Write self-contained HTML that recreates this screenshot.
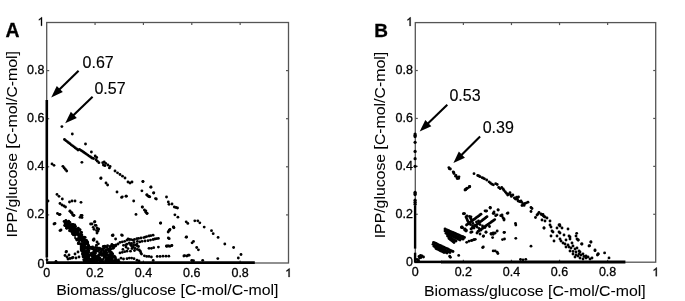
<!DOCTYPE html>
<html><head><meta charset="utf-8"><style>html,body{margin:0;padding:0;background:#fff;width:685px;height:301px;overflow:hidden}svg{display:block;will-change:transform}</style></head>
<body><svg width="685" height="301" viewBox="0 0 685 301"><rect x="46.7" y="22.5" width="241.8" height="240.5" fill="none" stroke="#555" stroke-width="1.3"/>
<text x="46.70" y="277.0" font-size="12.5" text-anchor="middle" font-family="Liberation Sans, sans-serif" stroke="#000" stroke-width="0.3">0</text>
<text x="44.400000000000006" y="267.50" font-size="12.5" text-anchor="end" font-family="Liberation Sans, sans-serif" stroke="#000" stroke-width="0.3">0</text>
<line x1="95.06" y1="263.0" x2="95.06" y2="260.5" stroke="#555" stroke-width="1.2"/>
<line x1="95.06" y1="22.5" x2="95.06" y2="25.0" stroke="#555" stroke-width="1.2"/>
<line x1="46.7" y1="214.90" x2="49.2" y2="214.90" stroke="#555" stroke-width="1.2"/>
<line x1="288.5" y1="214.90" x2="286.0" y2="214.90" stroke="#555" stroke-width="1.2"/>
<text x="95.06" y="277.0" font-size="12.5" text-anchor="middle" font-family="Liberation Sans, sans-serif" stroke="#000" stroke-width="0.3">0.2</text>
<text x="44.400000000000006" y="218.20" font-size="12.5" text-anchor="end" font-family="Liberation Sans, sans-serif" stroke="#000" stroke-width="0.3">0.2</text>
<line x1="143.42" y1="263.0" x2="143.42" y2="260.5" stroke="#555" stroke-width="1.2"/>
<line x1="143.42" y1="22.5" x2="143.42" y2="25.0" stroke="#555" stroke-width="1.2"/>
<line x1="46.7" y1="166.80" x2="49.2" y2="166.80" stroke="#555" stroke-width="1.2"/>
<line x1="288.5" y1="166.80" x2="286.0" y2="166.80" stroke="#555" stroke-width="1.2"/>
<text x="143.42" y="277.0" font-size="12.5" text-anchor="middle" font-family="Liberation Sans, sans-serif" stroke="#000" stroke-width="0.3">0.4</text>
<text x="44.400000000000006" y="170.10" font-size="12.5" text-anchor="end" font-family="Liberation Sans, sans-serif" stroke="#000" stroke-width="0.3">0.4</text>
<line x1="191.78" y1="263.0" x2="191.78" y2="260.5" stroke="#555" stroke-width="1.2"/>
<line x1="191.78" y1="22.5" x2="191.78" y2="25.0" stroke="#555" stroke-width="1.2"/>
<line x1="46.7" y1="118.70" x2="49.2" y2="118.70" stroke="#555" stroke-width="1.2"/>
<line x1="288.5" y1="118.70" x2="286.0" y2="118.70" stroke="#555" stroke-width="1.2"/>
<text x="191.78" y="277.0" font-size="12.5" text-anchor="middle" font-family="Liberation Sans, sans-serif" stroke="#000" stroke-width="0.3">0.6</text>
<text x="44.400000000000006" y="122.00" font-size="12.5" text-anchor="end" font-family="Liberation Sans, sans-serif" stroke="#000" stroke-width="0.3">0.6</text>
<line x1="240.14" y1="263.0" x2="240.14" y2="260.5" stroke="#555" stroke-width="1.2"/>
<line x1="240.14" y1="22.5" x2="240.14" y2="25.0" stroke="#555" stroke-width="1.2"/>
<line x1="46.7" y1="70.60" x2="49.2" y2="70.60" stroke="#555" stroke-width="1.2"/>
<line x1="288.5" y1="70.60" x2="286.0" y2="70.60" stroke="#555" stroke-width="1.2"/>
<text x="240.14" y="277.0" font-size="12.5" text-anchor="middle" font-family="Liberation Sans, sans-serif" stroke="#000" stroke-width="0.3">0.8</text>
<text x="44.400000000000006" y="73.90" font-size="12.5" text-anchor="end" font-family="Liberation Sans, sans-serif" stroke="#000" stroke-width="0.3">0.8</text>
<path transform="translate(285.02,277.0) scale(0.00610,-0.00610)" d="M 750 0 L 578 0 L 578 1100 C 537 1060 482 1020 414 981 C 346 942 286 912 233 892 L 233 1058 C 330 1103 413 1158 486 1223 C 559 1288 611 1350 640 1409 L 750 1409 Z" stroke="#000" stroke-width="49.2"/>
<path transform="translate(37.45,25.80) scale(0.00610,-0.00610)" d="M 750 0 L 578 0 L 578 1100 C 537 1060 482 1020 414 981 C 346 942 286 912 233 892 L 233 1058 C 330 1103 413 1158 486 1223 C 559 1288 611 1350 640 1409 L 750 1409 Z" stroke="#000" stroke-width="49.2"/>
<rect x="415.3" y="22.6" width="240.40000000000003" height="239.6" fill="none" stroke="#555" stroke-width="1.3"/>
<text x="415.30" y="276.2" font-size="12.5" text-anchor="middle" font-family="Liberation Sans, sans-serif" stroke="#000" stroke-width="0.3">0</text>
<text x="413.0" y="265.50" font-size="12.5" text-anchor="end" font-family="Liberation Sans, sans-serif" stroke="#000" stroke-width="0.3">0</text>
<line x1="463.38" y1="262.2" x2="463.38" y2="259.7" stroke="#555" stroke-width="1.2"/>
<line x1="463.38" y1="22.6" x2="463.38" y2="25.1" stroke="#555" stroke-width="1.2"/>
<line x1="415.3" y1="214.28" x2="417.8" y2="214.28" stroke="#555" stroke-width="1.2"/>
<line x1="655.7" y1="214.28" x2="653.2" y2="214.28" stroke="#555" stroke-width="1.2"/>
<text x="463.38" y="276.2" font-size="12.5" text-anchor="middle" font-family="Liberation Sans, sans-serif" stroke="#000" stroke-width="0.3">0.2</text>
<text x="413.0" y="217.58" font-size="12.5" text-anchor="end" font-family="Liberation Sans, sans-serif" stroke="#000" stroke-width="0.3">0.2</text>
<line x1="511.46" y1="262.2" x2="511.46" y2="259.7" stroke="#555" stroke-width="1.2"/>
<line x1="511.46" y1="22.6" x2="511.46" y2="25.1" stroke="#555" stroke-width="1.2"/>
<line x1="415.3" y1="166.36" x2="417.8" y2="166.36" stroke="#555" stroke-width="1.2"/>
<line x1="655.7" y1="166.36" x2="653.2" y2="166.36" stroke="#555" stroke-width="1.2"/>
<text x="511.46" y="276.2" font-size="12.5" text-anchor="middle" font-family="Liberation Sans, sans-serif" stroke="#000" stroke-width="0.3">0.4</text>
<text x="413.0" y="169.66" font-size="12.5" text-anchor="end" font-family="Liberation Sans, sans-serif" stroke="#000" stroke-width="0.3">0.4</text>
<line x1="559.54" y1="262.2" x2="559.54" y2="259.7" stroke="#555" stroke-width="1.2"/>
<line x1="559.54" y1="22.6" x2="559.54" y2="25.1" stroke="#555" stroke-width="1.2"/>
<line x1="415.3" y1="118.44" x2="417.8" y2="118.44" stroke="#555" stroke-width="1.2"/>
<line x1="655.7" y1="118.44" x2="653.2" y2="118.44" stroke="#555" stroke-width="1.2"/>
<text x="559.54" y="276.2" font-size="12.5" text-anchor="middle" font-family="Liberation Sans, sans-serif" stroke="#000" stroke-width="0.3">0.6</text>
<text x="413.0" y="121.74" font-size="12.5" text-anchor="end" font-family="Liberation Sans, sans-serif" stroke="#000" stroke-width="0.3">0.6</text>
<line x1="607.62" y1="262.2" x2="607.62" y2="259.7" stroke="#555" stroke-width="1.2"/>
<line x1="607.62" y1="22.6" x2="607.62" y2="25.1" stroke="#555" stroke-width="1.2"/>
<line x1="415.3" y1="70.52" x2="417.8" y2="70.52" stroke="#555" stroke-width="1.2"/>
<line x1="655.7" y1="70.52" x2="653.2" y2="70.52" stroke="#555" stroke-width="1.2"/>
<text x="607.62" y="276.2" font-size="12.5" text-anchor="middle" font-family="Liberation Sans, sans-serif" stroke="#000" stroke-width="0.3">0.8</text>
<text x="413.0" y="73.82" font-size="12.5" text-anchor="end" font-family="Liberation Sans, sans-serif" stroke="#000" stroke-width="0.3">0.8</text>
<path transform="translate(652.22,276.2) scale(0.00610,-0.00610)" d="M 750 0 L 578 0 L 578 1100 C 537 1060 482 1020 414 981 C 346 942 286 912 233 892 L 233 1058 C 330 1103 413 1158 486 1223 C 559 1288 611 1350 640 1409 L 750 1409 Z" stroke="#000" stroke-width="49.2"/>
<path transform="translate(406.05,25.90) scale(0.00610,-0.00610)" d="M 750 0 L 578 0 L 578 1100 C 537 1060 482 1020 414 981 C 346 942 286 912 233 892 L 233 1058 C 330 1103 413 1158 486 1223 C 559 1288 611 1350 640 1409 L 750 1409 Z" stroke="#000" stroke-width="49.2"/>
<text x="56.2" y="294.8" font-size="15.4" font-family="Liberation Sans, sans-serif" stroke="#000" stroke-width="0.05" textLength="222.3" lengthAdjust="spacingAndGlyphs">Biomass/glucose [C-mol/C-mol]</text>
<text x="423.9" y="295.7" font-size="15.4" font-family="Liberation Sans, sans-serif" stroke="#000" stroke-width="0.05" textLength="221.8" lengthAdjust="spacingAndGlyphs">Biomass/glucose [C-mol/C-mol]</text>
<text transform="translate(17.1,237.4) rotate(-90)" font-size="15.4" font-family="Liberation Sans, sans-serif" stroke="#000" stroke-width="0.05" textLength="186.4" lengthAdjust="spacingAndGlyphs">IPP/glucose [C-mol/C-mol]</text>
<text transform="translate(385.4,238.3) rotate(-90)" font-size="15.4" font-family="Liberation Sans, sans-serif" stroke="#000" stroke-width="0.05" textLength="186.4" lengthAdjust="spacingAndGlyphs">IPP/glucose [C-mol/C-mol]</text>
<text x="5.4" y="36.7" font-size="19.4" font-weight="bold" font-family="Liberation Sans, sans-serif" stroke="#000" stroke-width="0.3">A</text>
<text x="374.2" y="36.7" font-size="19" font-weight="bold" font-family="Liberation Sans, sans-serif" stroke="#000" stroke-width="0.3">B</text>
<text x="82.6" y="67.8" font-size="16" font-family="Liberation Sans, sans-serif" stroke="#000" stroke-width="0.15">0.67</text>
<text x="94.4" y="93.7" font-size="16" font-family="Liberation Sans, sans-serif" stroke="#000" stroke-width="0.15">0.57</text>
<text x="449.4" y="101" font-size="16" font-family="Liberation Sans, sans-serif" stroke="#000" stroke-width="0.15">0.53</text>
<text x="482.7" y="133.4" font-size="16" font-family="Liberation Sans, sans-serif" stroke="#000" stroke-width="0.15">0.39</text>
<line x1="78.6" y1="70.7" x2="58.36" y2="90.42" stroke="#000" stroke-width="2.1"/>
<polygon points="51.2,97.4 56.79,85.95 62.80,92.10" fill="#000"/>
<line x1="92.6" y1="96.7" x2="72.39" y2="116.25" stroke="#000" stroke-width="2.1"/>
<polygon points="65.2,123.2 70.84,111.77 76.82,117.95" fill="#000"/>
<line x1="447.3" y1="104.7" x2="426.89" y2="124.45" stroke="#000" stroke-width="2.1"/>
<polygon points="419.7,131.4 425.33,119.97 431.31,126.15" fill="#000"/>
<line x1="480.1" y1="136.4" x2="460.47" y2="156.03" stroke="#000" stroke-width="2.1"/>
<polygon points="453.4,163.1 458.84,151.57 464.93,157.66" fill="#000"/>
<g fill="#000">
<line x1="46.8" y1="100" x2="46.8" y2="257.5" stroke="#000" stroke-width="2.6"/>
<line x1="46.3" y1="262.7" x2="254.8" y2="262.7" stroke="#000" stroke-width="2.8"/>
<circle cx="47.0" cy="259.8" r="1.42"/>
<circle cx="56.0" cy="261.3" r="1.42"/>
<circle cx="61.9" cy="126.6" r="1.42"/>
<circle cx="72.3" cy="134.0" r="1.42"/>
<circle cx="85.5" cy="144.0" r="1.42"/>
<circle cx="91.4" cy="152.0" r="1.42"/>
<circle cx="81.9" cy="162.3" r="1.42"/>
<circle cx="52.0" cy="163.9" r="1.42"/>
<circle cx="54.0" cy="165.3" r="1.42"/>
<circle cx="100.8" cy="178.4" r="1.42"/>
<circle cx="64.5" cy="139.5" r="1.42"/>
<circle cx="65.8" cy="140.6" r="1.42"/>
<circle cx="67.2" cy="141.6" r="1.42"/>
<circle cx="68.5" cy="142.7" r="1.42"/>
<circle cx="69.9" cy="143.7" r="1.42"/>
<circle cx="71.2" cy="144.8" r="1.42"/>
<circle cx="72.6" cy="145.8" r="1.42"/>
<circle cx="74.0" cy="146.8" r="1.42"/>
<circle cx="75.3" cy="147.9" r="1.42"/>
<circle cx="76.7" cy="148.9" r="1.42"/>
<circle cx="78.0" cy="150.0" r="1.42"/>
<circle cx="79.5" cy="149.3" r="1.42"/>
<circle cx="80.9" cy="150.3" r="1.42"/>
<circle cx="82.3" cy="151.2" r="1.42"/>
<circle cx="83.7" cy="152.2" r="1.42"/>
<circle cx="85.1" cy="153.2" r="1.42"/>
<circle cx="86.4" cy="154.1" r="1.42"/>
<circle cx="87.8" cy="155.1" r="1.42"/>
<circle cx="89.2" cy="156.1" r="1.42"/>
<circle cx="90.6" cy="157.0" r="1.42"/>
<circle cx="92.0" cy="158.0" r="1.42"/>
<circle cx="95.2" cy="156.0" r="1.42"/>
<circle cx="96.7" cy="157.5" r="1.42"/>
<circle cx="96.0" cy="159.7" r="1.42"/>
<circle cx="97.4" cy="161.2" r="1.42"/>
<circle cx="98.9" cy="162.7" r="1.42"/>
<circle cx="102.7" cy="162.7" r="1.42"/>
<circle cx="104.2" cy="162.0" r="1.42"/>
<circle cx="105.7" cy="163.4" r="1.42"/>
<circle cx="104.9" cy="165.7" r="1.42"/>
<circle cx="103.4" cy="165.0" r="1.42"/>
<circle cx="107.9" cy="165.0" r="1.42"/>
<circle cx="110.1" cy="166.4" r="1.42"/>
<circle cx="109.4" cy="167.9" r="1.42"/>
<circle cx="93.5" cy="158.5" r="1.42"/>
<circle cx="62.9" cy="166.3" r="1.42"/>
<circle cx="64.2" cy="167.9" r="1.42"/>
<circle cx="65.4" cy="169.4" r="1.42"/>
<circle cx="66.7" cy="171.0" r="1.42"/>
<circle cx="115.0" cy="171.0" r="1.42"/>
<circle cx="117.5" cy="172.8" r="1.42"/>
<circle cx="120.0" cy="174.5" r="1.42"/>
<circle cx="122.5" cy="176.2" r="1.42"/>
<circle cx="125.0" cy="178.0" r="1.42"/>
<circle cx="128.0" cy="182.0" r="1.42"/>
<circle cx="130.0" cy="183.0" r="1.42"/>
<circle cx="132.0" cy="182.0" r="1.42"/>
<circle cx="142.9" cy="181.5" r="1.42"/>
<circle cx="101.0" cy="178.0" r="1.42"/>
<circle cx="106.0" cy="183.0" r="1.42"/>
<circle cx="107.6" cy="185.0" r="1.42"/>
<circle cx="117.0" cy="192.0" r="1.42"/>
<circle cx="122.3" cy="196.8" r="1.42"/>
<circle cx="126.0" cy="196.2" r="1.42"/>
<circle cx="141.9" cy="190.8" r="1.42"/>
<circle cx="150.8" cy="187.2" r="1.42"/>
<circle cx="146.8" cy="194.8" r="1.42"/>
<circle cx="149.8" cy="196.8" r="1.42"/>
<circle cx="153.8" cy="192.8" r="1.42"/>
<circle cx="143.0" cy="181.6" r="1.42"/>
<circle cx="151.0" cy="187.0" r="1.42"/>
<circle cx="147.0" cy="195.0" r="1.42"/>
<circle cx="149.0" cy="196.5" r="1.42"/>
<circle cx="153.6" cy="193.0" r="1.42"/>
<circle cx="156.3" cy="199.0" r="1.42"/>
<circle cx="166.5" cy="197.0" r="1.42"/>
<circle cx="168.3" cy="202.0" r="1.42"/>
<circle cx="169.0" cy="204.3" r="1.42"/>
<circle cx="172.0" cy="204.0" r="1.42"/>
<circle cx="174.3" cy="207.0" r="1.42"/>
<circle cx="176.0" cy="207.5" r="1.42"/>
<circle cx="177.5" cy="208.0" r="1.42"/>
<circle cx="142.4" cy="207.0" r="1.42"/>
<circle cx="144.4" cy="210.0" r="1.42"/>
<circle cx="145.6" cy="212.0" r="1.42"/>
<circle cx="147.0" cy="213.5" r="1.42"/>
<circle cx="174.9" cy="214.8" r="1.42"/>
<circle cx="177.9" cy="217.2" r="1.42"/>
<circle cx="160.5" cy="223.2" r="1.42"/>
<circle cx="186.2" cy="221.8" r="1.42"/>
<circle cx="187.8" cy="223.4" r="1.42"/>
<circle cx="194.8" cy="220.8" r="1.42"/>
<circle cx="197.8" cy="220.8" r="1.42"/>
<circle cx="199.8" cy="222.8" r="1.42"/>
<circle cx="173.9" cy="227.8" r="1.42"/>
<circle cx="170.0" cy="229.4" r="1.42"/>
<circle cx="204.2" cy="227.1" r="1.42"/>
<circle cx="211.5" cy="230.7" r="1.42"/>
<circle cx="213.2" cy="233.7" r="1.42"/>
<circle cx="218.1" cy="237.4" r="1.42"/>
<circle cx="224.8" cy="244.0" r="1.42"/>
<circle cx="233.6" cy="247.5" r="1.42"/>
<circle cx="241.0" cy="254.5" r="1.42"/>
<circle cx="238.3" cy="258.0" r="1.42"/>
<circle cx="217.8" cy="258.6" r="1.42"/>
<circle cx="192.1" cy="242.8" r="1.42"/>
<circle cx="193.5" cy="241.4" r="1.42"/>
<circle cx="196.7" cy="247.5" r="1.42"/>
<circle cx="198.4" cy="249.8" r="1.42"/>
<circle cx="202.7" cy="260.3" r="1.42"/>
<circle cx="191.8" cy="260.3" r="1.42"/>
<circle cx="193.5" cy="260.7" r="1.42"/>
<circle cx="173.3" cy="227.0" r="1.42"/>
<circle cx="169.3" cy="230.4" r="1.42"/>
<circle cx="168.3" cy="238.0" r="1.42"/>
<circle cx="186.6" cy="237.0" r="1.42"/>
<circle cx="166.6" cy="246.3" r="1.42"/>
<circle cx="170.0" cy="246.3" r="1.42"/>
<circle cx="171.6" cy="245.7" r="1.42"/>
<circle cx="160.7" cy="223.0" r="1.42"/>
<circle cx="173.7" cy="227.2" r="1.42"/>
<circle cx="169.2" cy="230.2" r="1.42"/>
<circle cx="168.2" cy="232.0" r="1.42"/>
<circle cx="169.2" cy="238.7" r="1.42"/>
<circle cx="186.1" cy="237.2" r="1.42"/>
<circle cx="184.7" cy="255.7" r="1.42"/>
<circle cx="188.3" cy="255.2" r="1.42"/>
<circle cx="167.7" cy="246.0" r="1.42"/>
<circle cx="136.0" cy="214.4" r="1.42"/>
<circle cx="142.2" cy="207.1" r="1.42"/>
<circle cx="145.8" cy="210.8" r="1.42"/>
<circle cx="147.0" cy="213.2" r="1.42"/>
<circle cx="133.7" cy="201.0" r="1.42"/>
<circle cx="121.6" cy="197.4" r="1.42"/>
<circle cx="126.4" cy="196.2" r="1.42"/>
<circle cx="148.3" cy="196.2" r="1.42"/>
<circle cx="155.5" cy="198.6" r="1.42"/>
<circle cx="94.9" cy="221.7" r="1.42"/>
<circle cx="96.0" cy="225.3" r="1.42"/>
<circle cx="98.5" cy="229.0" r="1.42"/>
<circle cx="93.6" cy="240.0" r="1.42"/>
<circle cx="113.0" cy="235.0" r="1.42"/>
<circle cx="121.6" cy="235.0" r="1.42"/>
<circle cx="112.3" cy="235.4" r="1.42"/>
<circle cx="122.3" cy="235.4" r="1.42"/>
<circle cx="115.6" cy="239.0" r="1.42"/>
<circle cx="120.0" cy="242.4" r="1.42"/>
<circle cx="122.3" cy="241.9" r="1.42"/>
<circle cx="124.7" cy="241.3" r="1.42"/>
<circle cx="127.0" cy="240.1" r="1.42"/>
<circle cx="129.3" cy="239.5" r="1.42"/>
<circle cx="132.8" cy="240.1" r="1.42"/>
<circle cx="134.5" cy="239.5" r="1.42"/>
<circle cx="136.9" cy="238.7" r="1.42"/>
<circle cx="138.6" cy="238.4" r="1.42"/>
<circle cx="141.0" cy="238.0" r="1.42"/>
<circle cx="143.8" cy="237.6" r="1.42"/>
<circle cx="146.7" cy="236.6" r="1.42"/>
<circle cx="149.0" cy="236.0" r="1.42"/>
<circle cx="150.8" cy="235.7" r="1.42"/>
<circle cx="153.1" cy="235.2" r="1.42"/>
<circle cx="118.0" cy="244.0" r="1.42"/>
<circle cx="116.0" cy="245.0" r="1.42"/>
<circle cx="113.0" cy="245.5" r="1.42"/>
<circle cx="131.0" cy="239.6" r="1.42"/>
<circle cx="145.2" cy="237.1" r="1.42"/>
<circle cx="137.4" cy="241.3" r="1.42"/>
<circle cx="139.8" cy="241.9" r="1.42"/>
<circle cx="142.1" cy="241.3" r="1.42"/>
<circle cx="145.0" cy="241.0" r="1.42"/>
<circle cx="148.0" cy="240.7" r="1.42"/>
<circle cx="150.5" cy="240.1" r="1.42"/>
<circle cx="153.1" cy="239.5" r="1.42"/>
<circle cx="154.9" cy="239.0" r="1.42"/>
<circle cx="156.6" cy="238.7" r="1.42"/>
<circle cx="158.4" cy="238.4" r="1.42"/>
<circle cx="128.1" cy="239.0" r="1.42"/>
<circle cx="129.3" cy="243.0" r="1.42"/>
<circle cx="130.5" cy="244.8" r="1.42"/>
<circle cx="131.6" cy="246.0" r="1.42"/>
<circle cx="133.4" cy="247.1" r="1.42"/>
<circle cx="135.1" cy="248.3" r="1.42"/>
<circle cx="137.4" cy="249.4" r="1.42"/>
<circle cx="139.2" cy="250.0" r="1.42"/>
<circle cx="140.3" cy="251.2" r="1.42"/>
<circle cx="140.9" cy="252.9" r="1.42"/>
<circle cx="141.5" cy="254.1" r="1.42"/>
<circle cx="123.5" cy="245.3" r="1.42"/>
<circle cx="125.8" cy="244.8" r="1.42"/>
<circle cx="127.0" cy="244.2" r="1.42"/>
<circle cx="137.4" cy="246.0" r="1.42"/>
<circle cx="120.0" cy="252.9" r="1.42"/>
<circle cx="122.3" cy="252.3" r="1.42"/>
<circle cx="124.7" cy="251.7" r="1.42"/>
<circle cx="127.0" cy="251.2" r="1.42"/>
<circle cx="122.9" cy="249.4" r="1.42"/>
<circle cx="130.5" cy="251.2" r="1.42"/>
<circle cx="144.4" cy="255.8" r="1.42"/>
<circle cx="146.7" cy="256.4" r="1.42"/>
<circle cx="149.0" cy="256.4" r="1.42"/>
<circle cx="151.4" cy="257.0" r="1.42"/>
<circle cx="149.0" cy="248.3" r="1.42"/>
<circle cx="151.4" cy="248.3" r="1.42"/>
<circle cx="153.7" cy="247.7" r="1.42"/>
<circle cx="158.4" cy="247.1" r="1.42"/>
<circle cx="157.2" cy="256.4" r="1.42"/>
<circle cx="160.1" cy="256.4" r="1.42"/>
<circle cx="163.0" cy="256.2" r="1.42"/>
<circle cx="166.0" cy="256.2" r="1.42"/>
<circle cx="168.8" cy="256.2" r="1.42"/>
<circle cx="166.5" cy="246.0" r="1.42"/>
<circle cx="168.8" cy="246.0" r="1.42"/>
<circle cx="171.9" cy="245.4" r="1.42"/>
<circle cx="127.0" cy="258.7" r="1.42"/>
<circle cx="129.3" cy="258.1" r="1.42"/>
<circle cx="131.6" cy="258.1" r="1.42"/>
<circle cx="134.0" cy="258.7" r="1.42"/>
<circle cx="121.0" cy="258.2" r="1.42"/>
<circle cx="123.5" cy="259.0" r="1.42"/>
<circle cx="137.0" cy="260.2" r="1.42"/>
<circle cx="139.0" cy="260.9" r="1.42"/>
<circle cx="153.2" cy="260.4" r="1.42"/>
<circle cx="183.9" cy="256.0" r="1.42"/>
<circle cx="186.9" cy="256.0" r="1.42"/>
<circle cx="189.1" cy="255.2" r="1.42"/>
<circle cx="131.5" cy="243.5" r="1.42"/>
<circle cx="133.5" cy="244.8" r="1.42"/>
<circle cx="135.5" cy="245.2" r="1.42"/>
<circle cx="134.0" cy="242.5" r="1.42"/>
<circle cx="137.0" cy="243.8" r="1.42"/>
<circle cx="138.5" cy="246.5" r="1.42"/>
<circle cx="132.0" cy="248.5" r="1.42"/>
<circle cx="134.5" cy="250.5" r="1.42"/>
<circle cx="126.0" cy="247.0" r="1.42"/>
<circle cx="128.0" cy="248.6" r="1.42"/>
<circle cx="57.0" cy="194.4" r="1.42"/>
<circle cx="59.0" cy="196.3" r="1.42"/>
<circle cx="62.3" cy="199.0" r="1.42"/>
<circle cx="48.0" cy="201.0" r="1.42"/>
<circle cx="60.0" cy="203.5" r="1.42"/>
<circle cx="62.0" cy="205.0" r="1.42"/>
<circle cx="64.0" cy="206.0" r="1.42"/>
<circle cx="65.5" cy="207.0" r="1.42"/>
<circle cx="69.5" cy="202.0" r="1.42"/>
<circle cx="72.0" cy="201.0" r="1.42"/>
<circle cx="75.0" cy="201.0" r="1.42"/>
<circle cx="81.0" cy="202.3" r="1.42"/>
<circle cx="70.0" cy="211.0" r="1.42"/>
<circle cx="72.0" cy="213.0" r="1.42"/>
<circle cx="73.5" cy="215.5" r="1.42"/>
<circle cx="57.5" cy="213.5" r="1.42"/>
<circle cx="60.0" cy="214.3" r="1.42"/>
<circle cx="81.0" cy="215.5" r="1.42"/>
<circle cx="82.0" cy="217.5" r="1.42"/>
<circle cx="55.0" cy="223.5" r="1.42"/>
<circle cx="61.0" cy="230.0" r="1.42"/>
<circle cx="59.3" cy="214.7" r="1.42"/>
<circle cx="70.0" cy="211.3" r="1.42"/>
<circle cx="71.3" cy="212.7" r="1.42"/>
<circle cx="72.6" cy="214.7" r="1.42"/>
<circle cx="74.0" cy="215.3" r="1.42"/>
<circle cx="80.0" cy="217.3" r="1.42"/>
<circle cx="82.0" cy="215.3" r="1.42"/>
<circle cx="60.0" cy="230.6" r="1.42"/>
<circle cx="90.6" cy="224.0" r="1.42"/>
<circle cx="94.5" cy="222.0" r="1.42"/>
<circle cx="93.2" cy="227.3" r="1.42"/>
<circle cx="95.2" cy="225.3" r="1.42"/>
<circle cx="96.5" cy="230.6" r="1.42"/>
<circle cx="93.2" cy="240.0" r="1.42"/>
<circle cx="96.5" cy="245.2" r="1.42"/>
<circle cx="54.0" cy="224.0" r="1.42"/>
<circle cx="92.0" cy="224.0" r="1.42"/>
<circle cx="97.0" cy="228.0" r="1.42"/>
<circle cx="98.0" cy="231.0" r="1.42"/>
<circle cx="94.0" cy="239.0" r="1.42"/>
<circle cx="97.0" cy="242.0" r="1.42"/>
<circle cx="94.0" cy="229.3" r="1.42"/>
<circle cx="98.4" cy="229.3" r="1.42"/>
<circle cx="97.0" cy="233.0" r="1.42"/>
<circle cx="94.0" cy="240.0" r="1.42"/>
<circle cx="98.4" cy="243.8" r="1.42"/>
<circle cx="112.9" cy="235.6" r="1.42"/>
<circle cx="66.0" cy="252.0" r="1.42"/>
<circle cx="69.0" cy="255.0" r="1.42"/>
<circle cx="72.0" cy="258.0" r="1.42"/>
<circle cx="68.0" cy="259.0" r="1.42"/>
<circle cx="67.5" cy="223.4" r="1.42"/>
<circle cx="87.9" cy="254.6" r="1.42"/>
<circle cx="70.6" cy="229.0" r="1.42"/>
<circle cx="99.6" cy="259.8" r="1.42"/>
<circle cx="71.8" cy="224.5" r="1.42"/>
<circle cx="66.9" cy="228.3" r="1.42"/>
<circle cx="81.6" cy="244.4" r="1.42"/>
<circle cx="109.2" cy="249.2" r="1.42"/>
<circle cx="93.7" cy="256.7" r="1.42"/>
<circle cx="87.5" cy="251.7" r="1.42"/>
<circle cx="111.8" cy="259.6" r="1.42"/>
<circle cx="90.8" cy="247.7" r="1.42"/>
<circle cx="100.7" cy="261.7" r="1.42"/>
<circle cx="85.7" cy="247.9" r="1.42"/>
<circle cx="73.2" cy="224.5" r="1.42"/>
<circle cx="70.9" cy="230.0" r="1.42"/>
<circle cx="86.0" cy="256.5" r="1.42"/>
<circle cx="95.1" cy="257.0" r="1.42"/>
<circle cx="110.6" cy="256.2" r="1.42"/>
<circle cx="79.5" cy="237.2" r="1.42"/>
<circle cx="84.1" cy="257.1" r="1.42"/>
<circle cx="73.6" cy="229.4" r="1.42"/>
<circle cx="76.9" cy="240.1" r="1.42"/>
<circle cx="84.7" cy="243.6" r="1.42"/>
<circle cx="67.1" cy="222.4" r="1.42"/>
<circle cx="75.5" cy="226.4" r="1.42"/>
<circle cx="78.0" cy="234.3" r="1.42"/>
<circle cx="112.3" cy="261.7" r="1.42"/>
<circle cx="68.4" cy="223.8" r="1.42"/>
<circle cx="93.9" cy="261.1" r="1.42"/>
<circle cx="78.5" cy="235.1" r="1.42"/>
<circle cx="94.1" cy="252.6" r="1.42"/>
<circle cx="110.2" cy="261.4" r="1.42"/>
<circle cx="112.5" cy="253.8" r="1.42"/>
<circle cx="117.4" cy="261.5" r="1.42"/>
<circle cx="76.2" cy="229.1" r="1.42"/>
<circle cx="74.8" cy="228.2" r="1.42"/>
<circle cx="99.4" cy="257.8" r="1.42"/>
<circle cx="101.0" cy="253.5" r="1.42"/>
<circle cx="82.6" cy="253.5" r="1.42"/>
<circle cx="86.6" cy="259.7" r="1.42"/>
<circle cx="70.8" cy="225.9" r="1.42"/>
<circle cx="83.6" cy="242.8" r="1.42"/>
<circle cx="93.8" cy="259.2" r="1.42"/>
<circle cx="88.4" cy="256.5" r="1.42"/>
<circle cx="78.0" cy="232.0" r="1.42"/>
<circle cx="78.4" cy="237.3" r="1.42"/>
<circle cx="83.8" cy="239.0" r="1.42"/>
<circle cx="97.0" cy="257.9" r="1.42"/>
<circle cx="87.7" cy="258.5" r="1.42"/>
<circle cx="82.2" cy="241.5" r="1.42"/>
<circle cx="95.4" cy="252.8" r="1.42"/>
<circle cx="77.8" cy="231.3" r="1.42"/>
<circle cx="95.8" cy="251.8" r="1.42"/>
<circle cx="92.9" cy="248.9" r="1.42"/>
<circle cx="91.0" cy="259.5" r="1.42"/>
<circle cx="103.7" cy="256.8" r="1.42"/>
<circle cx="95.7" cy="259.6" r="1.42"/>
<circle cx="108.6" cy="257.6" r="1.42"/>
<circle cx="114.3" cy="260.6" r="1.42"/>
<circle cx="86.4" cy="240.2" r="1.42"/>
<circle cx="74.8" cy="233.0" r="1.42"/>
<circle cx="108.8" cy="260.8" r="1.42"/>
<circle cx="69.5" cy="230.8" r="1.42"/>
<circle cx="87.8" cy="258.2" r="1.42"/>
<circle cx="96.3" cy="249.3" r="1.42"/>
<circle cx="68.6" cy="221.9" r="1.42"/>
<circle cx="100.0" cy="253.6" r="1.42"/>
<circle cx="95.3" cy="258.9" r="1.42"/>
<circle cx="69.8" cy="226.4" r="1.42"/>
<circle cx="66.4" cy="228.1" r="1.42"/>
<circle cx="81.4" cy="232.5" r="1.42"/>
<circle cx="92.0" cy="255.0" r="1.42"/>
<circle cx="86.1" cy="241.0" r="1.42"/>
<circle cx="103.0" cy="261.3" r="1.42"/>
<circle cx="83.2" cy="254.9" r="1.42"/>
<circle cx="104.1" cy="246.5" r="1.42"/>
<circle cx="66.6" cy="225.0" r="1.42"/>
<circle cx="113.6" cy="248.0" r="1.42"/>
<circle cx="79.7" cy="229.8" r="1.42"/>
<circle cx="80.4" cy="239.0" r="1.42"/>
<circle cx="81.3" cy="234.7" r="1.42"/>
<circle cx="65.9" cy="220.5" r="1.42"/>
<circle cx="106.7" cy="247.4" r="1.42"/>
<circle cx="104.7" cy="256.9" r="1.42"/>
<circle cx="105.1" cy="246.8" r="1.42"/>
<circle cx="114.8" cy="246.2" r="1.42"/>
<circle cx="105.7" cy="254.0" r="1.42"/>
<circle cx="92.5" cy="255.0" r="1.42"/>
<circle cx="109.8" cy="254.6" r="1.42"/>
<circle cx="97.1" cy="257.4" r="1.42"/>
<circle cx="102.8" cy="249.0" r="1.42"/>
<circle cx="99.5" cy="248.4" r="1.42"/>
<circle cx="109.4" cy="251.3" r="1.42"/>
<circle cx="106.0" cy="261.0" r="1.42"/>
<circle cx="91.0" cy="248.6" r="1.42"/>
<circle cx="107.6" cy="245.7" r="1.42"/>
<circle cx="72.0" cy="230.3" r="1.42"/>
<circle cx="102.1" cy="248.9" r="1.42"/>
<circle cx="110.6" cy="260.6" r="1.42"/>
<circle cx="84.2" cy="237.7" r="1.42"/>
<circle cx="77.8" cy="230.8" r="1.42"/>
<circle cx="85.0" cy="260.1" r="1.42"/>
<circle cx="99.8" cy="258.3" r="1.42"/>
<circle cx="106.8" cy="246.9" r="1.42"/>
<circle cx="73.1" cy="226.4" r="1.42"/>
<circle cx="115.6" cy="261.9" r="1.42"/>
<circle cx="77.2" cy="230.5" r="1.42"/>
<circle cx="96.3" cy="257.2" r="1.42"/>
<circle cx="87.3" cy="241.8" r="1.42"/>
<circle cx="79.1" cy="230.1" r="1.42"/>
<circle cx="86.0" cy="258.9" r="1.42"/>
<circle cx="111.0" cy="255.9" r="1.42"/>
<circle cx="69.8" cy="226.1" r="1.42"/>
<circle cx="93.5" cy="248.5" r="1.42"/>
<circle cx="100.7" cy="252.0" r="1.42"/>
<circle cx="70.9" cy="230.2" r="1.42"/>
<circle cx="100.1" cy="249.2" r="1.42"/>
<circle cx="69.9" cy="222.5" r="1.42"/>
<circle cx="80.8" cy="239.1" r="1.42"/>
<circle cx="77.0" cy="230.0" r="1.42"/>
<circle cx="92.2" cy="248.2" r="1.42"/>
<circle cx="101.9" cy="258.8" r="1.42"/>
<circle cx="82.9" cy="237.4" r="1.42"/>
<circle cx="109.3" cy="250.9" r="1.42"/>
<circle cx="76.3" cy="237.2" r="1.42"/>
<circle cx="101.8" cy="259.8" r="1.42"/>
<circle cx="115.1" cy="257.1" r="1.42"/>
<circle cx="105.6" cy="261.9" r="1.42"/>
<circle cx="79.6" cy="234.4" r="1.42"/>
<circle cx="84.0" cy="254.4" r="1.42"/>
<circle cx="84.9" cy="258.6" r="1.42"/>
<circle cx="74.6" cy="235.0" r="1.42"/>
<circle cx="87.1" cy="254.0" r="1.42"/>
<circle cx="65.5" cy="222.2" r="1.42"/>
<circle cx="106.5" cy="257.7" r="1.42"/>
<circle cx="76.9" cy="239.7" r="1.42"/>
<circle cx="118.5" cy="260.0" r="1.42"/>
<circle cx="109.6" cy="250.9" r="1.42"/>
<circle cx="110.8" cy="252.3" r="1.42"/>
<circle cx="81.9" cy="234.9" r="1.42"/>
<circle cx="114.3" cy="261.5" r="1.42"/>
<circle cx="77.0" cy="237.2" r="1.42"/>
<circle cx="99.2" cy="248.1" r="1.42"/>
<circle cx="106.5" cy="255.5" r="1.42"/>
<circle cx="77.7" cy="229.9" r="1.42"/>
<circle cx="86.3" cy="261.7" r="1.42"/>
<circle cx="110.0" cy="247.3" r="1.42"/>
<circle cx="90.8" cy="254.3" r="1.42"/>
<circle cx="111.8" cy="258.4" r="1.42"/>
<circle cx="70.4" cy="227.6" r="1.42"/>
<circle cx="76.0" cy="235.2" r="1.42"/>
<circle cx="71.6" cy="228.2" r="1.42"/>
<circle cx="67.1" cy="223.8" r="1.42"/>
<circle cx="86.2" cy="242.9" r="1.42"/>
<circle cx="81.5" cy="243.6" r="1.42"/>
<circle cx="84.0" cy="237.2" r="1.42"/>
<circle cx="113.2" cy="261.9" r="1.42"/>
<circle cx="87.9" cy="254.4" r="1.42"/>
<circle cx="86.9" cy="257.0" r="1.42"/>
<circle cx="100.3" cy="258.2" r="1.42"/>
<circle cx="84.8" cy="240.9" r="1.42"/>
<circle cx="71.9" cy="231.5" r="1.42"/>
<circle cx="93.5" cy="258.8" r="1.42"/>
<circle cx="109.8" cy="260.6" r="1.42"/>
<circle cx="74.8" cy="224.9" r="1.42"/>
<circle cx="117.7" cy="261.0" r="1.42"/>
<circle cx="115.5" cy="245.9" r="1.42"/>
<circle cx="86.8" cy="255.5" r="1.42"/>
<circle cx="76.0" cy="236.5" r="1.42"/>
<circle cx="70.6" cy="230.0" r="1.42"/>
<circle cx="105.2" cy="257.6" r="1.42"/>
<circle cx="87.7" cy="244.3" r="1.42"/>
<circle cx="88.0" cy="247.5" r="1.42"/>
<circle cx="107.4" cy="252.6" r="1.42"/>
<circle cx="105.7" cy="252.5" r="1.42"/>
<circle cx="112.8" cy="261.8" r="1.42"/>
<circle cx="105.6" cy="254.1" r="1.42"/>
<circle cx="91.8" cy="260.2" r="1.42"/>
<circle cx="108.8" cy="259.0" r="1.42"/>
<circle cx="92.4" cy="258.6" r="1.42"/>
<circle cx="75.5" cy="230.7" r="1.42"/>
<circle cx="102.6" cy="257.6" r="1.42"/>
<circle cx="96.9" cy="257.0" r="1.42"/>
<circle cx="84.2" cy="252.0" r="1.42"/>
<circle cx="100.3" cy="261.3" r="1.42"/>
<circle cx="97.2" cy="247.7" r="1.42"/>
<circle cx="65.4" cy="225.8" r="1.42"/>
<circle cx="93.0" cy="257.6" r="1.42"/>
<circle cx="71.1" cy="229.2" r="1.42"/>
<circle cx="92.6" cy="246.8" r="1.42"/>
<circle cx="81.3" cy="232.3" r="1.42"/>
<circle cx="108.5" cy="249.9" r="1.42"/>
<circle cx="82.8" cy="251.4" r="1.42"/>
<circle cx="103.5" cy="255.4" r="1.42"/>
<circle cx="78.5" cy="229.5" r="1.42"/>
<circle cx="106.3" cy="259.6" r="1.42"/>
<circle cx="99.8" cy="248.9" r="1.42"/>
<circle cx="101.8" cy="261.1" r="1.42"/>
<circle cx="90.5" cy="255.2" r="1.42"/>
<circle cx="103.6" cy="255.9" r="1.42"/>
<circle cx="88.6" cy="250.3" r="1.42"/>
<circle cx="65.2" cy="221.3" r="1.42"/>
<circle cx="103.3" cy="246.4" r="1.42"/>
<circle cx="103.6" cy="250.8" r="1.42"/>
<circle cx="84.4" cy="254.2" r="1.42"/>
<circle cx="110.6" cy="257.4" r="1.42"/>
<circle cx="116.1" cy="259.6" r="1.42"/>
<circle cx="69.7" cy="228.2" r="1.42"/>
<circle cx="112.2" cy="254.0" r="1.42"/>
<circle cx="100.0" cy="254.6" r="1.42"/>
<circle cx="69.2" cy="223.7" r="1.42"/>
<circle cx="81.9" cy="237.5" r="1.42"/>
<circle cx="112.5" cy="245.8" r="1.42"/>
<circle cx="88.6" cy="252.4" r="1.42"/>
<circle cx="83.4" cy="249.4" r="1.42"/>
<circle cx="107.3" cy="261.1" r="1.42"/>
<circle cx="91.8" cy="253.4" r="1.42"/>
<circle cx="83.5" cy="254.9" r="1.42"/>
<circle cx="103.6" cy="252.9" r="1.42"/>
<circle cx="75.4" cy="230.7" r="1.42"/>
<circle cx="85.3" cy="257.1" r="1.42"/>
<circle cx="76.9" cy="239.1" r="1.42"/>
<circle cx="94.1" cy="251.6" r="1.42"/>
<circle cx="106.8" cy="247.0" r="1.42"/>
<circle cx="101.6" cy="251.0" r="1.42"/>
<circle cx="74.5" cy="232.3" r="1.42"/>
<circle cx="103.9" cy="255.4" r="1.42"/>
<circle cx="72.4" cy="226.1" r="1.42"/>
<circle cx="77.7" cy="233.4" r="1.42"/>
<circle cx="69.6" cy="228.3" r="1.42"/>
<circle cx="86.4" cy="253.1" r="1.42"/>
<circle cx="86.8" cy="251.0" r="1.42"/>
<circle cx="96.5" cy="251.3" r="1.42"/>
<circle cx="105.0" cy="256.9" r="1.42"/>
<circle cx="108.0" cy="249.3" r="1.42"/>
<circle cx="112.5" cy="248.4" r="1.42"/>
<circle cx="81.5" cy="246.2" r="1.42"/>
<circle cx="108.5" cy="249.8" r="1.42"/>
<circle cx="102.3" cy="259.0" r="1.42"/>
<circle cx="91.7" cy="260.9" r="1.42"/>
<circle cx="94.6" cy="250.0" r="1.42"/>
<circle cx="87.1" cy="259.8" r="1.42"/>
<circle cx="86.1" cy="251.9" r="1.42"/>
<circle cx="79.3" cy="236.5" r="1.42"/>
<circle cx="87.7" cy="249.2" r="1.42"/>
<circle cx="110.1" cy="246.5" r="1.42"/>
<circle cx="83.8" cy="246.6" r="1.42"/>
<circle cx="110.6" cy="254.2" r="1.42"/>
<circle cx="79.7" cy="229.9" r="1.42"/>
<circle cx="80.9" cy="239.9" r="1.42"/>
<circle cx="88.1" cy="246.6" r="1.42"/>
<circle cx="69.3" cy="225.6" r="1.42"/>
<circle cx="98.5" cy="252.7" r="1.42"/>
<circle cx="101.9" cy="257.5" r="1.42"/>
<circle cx="108.8" cy="255.1" r="1.42"/>
<circle cx="94.0" cy="251.0" r="1.42"/>
<circle cx="88.7" cy="257.0" r="1.42"/>
<circle cx="94.5" cy="256.2" r="1.42"/>
<circle cx="101.8" cy="255.2" r="1.42"/>
<circle cx="85.1" cy="237.3" r="1.42"/>
<circle cx="102.7" cy="259.1" r="1.42"/>
<circle cx="104.8" cy="246.1" r="1.42"/>
<circle cx="83.0" cy="256.1" r="1.42"/>
<circle cx="84.6" cy="239.7" r="1.42"/>
<circle cx="93.7" cy="252.2" r="1.42"/>
<circle cx="75.6" cy="238.0" r="1.42"/>
<circle cx="87.8" cy="243.0" r="1.42"/>
<circle cx="92.6" cy="260.9" r="1.42"/>
<circle cx="101.1" cy="253.2" r="1.42"/>
<circle cx="80.7" cy="244.4" r="1.42"/>
<circle cx="100.0" cy="252.8" r="1.42"/>
<circle cx="101.3" cy="253.0" r="1.42"/>
<circle cx="108.0" cy="258.3" r="1.42"/>
<circle cx="110.8" cy="252.9" r="1.42"/>
<circle cx="80.9" cy="237.4" r="1.42"/>
<circle cx="81.8" cy="237.8" r="1.42"/>
<circle cx="100.4" cy="259.2" r="1.42"/>
<circle cx="65.8" cy="224.6" r="1.42"/>
<circle cx="97.5" cy="259.4" r="1.42"/>
<circle cx="104.5" cy="255.9" r="1.42"/>
<circle cx="99.6" cy="249.6" r="1.42"/>
<circle cx="90.0" cy="259.1" r="1.42"/>
<circle cx="81.4" cy="250.5" r="1.42"/>
<circle cx="84.6" cy="243.9" r="1.42"/>
<circle cx="88.7" cy="248.3" r="1.42"/>
<circle cx="84.4" cy="246.9" r="1.42"/>
<circle cx="85.7" cy="252.9" r="1.42"/>
<circle cx="103.9" cy="254.7" r="1.42"/>
<circle cx="82.6" cy="245.2" r="1.42"/>
<circle cx="88.1" cy="257.2" r="1.42"/>
<circle cx="85.2" cy="248.6" r="1.42"/>
<circle cx="98.1" cy="257.6" r="1.42"/>
<circle cx="87.8" cy="244.4" r="1.42"/>
<circle cx="110.4" cy="257.2" r="1.42"/>
<circle cx="110.2" cy="256.4" r="1.42"/>
<circle cx="112.4" cy="253.8" r="1.42"/>
<circle cx="102.9" cy="258.3" r="1.42"/>
<circle cx="95.3" cy="253.4" r="1.42"/>
<circle cx="98.4" cy="248.3" r="1.42"/>
<circle cx="96.8" cy="257.6" r="1.42"/>
<circle cx="74.4" cy="227.7" r="1.42"/>
<circle cx="84.4" cy="243.5" r="1.42"/>
<circle cx="86.6" cy="241.5" r="1.42"/>
<circle cx="110.6" cy="260.4" r="1.42"/>
<circle cx="75.1" cy="227.2" r="1.42"/>
<circle cx="68.3" cy="221.7" r="1.42"/>
<circle cx="95.5" cy="256.5" r="1.42"/>
<circle cx="89.9" cy="259.8" r="1.42"/>
<circle cx="78.3" cy="243.5" r="1.42"/>
<circle cx="100.3" cy="260.1" r="1.42"/>
<circle cx="119.0" cy="261.6" r="1.42"/>
<circle cx="78.2" cy="234.5" r="1.42"/>
<circle cx="115.4" cy="257.9" r="1.42"/>
<circle cx="108.7" cy="249.7" r="1.42"/>
<circle cx="100.7" cy="261.4" r="1.42"/>
<circle cx="66.7" cy="225.7" r="1.42"/>
<circle cx="106.9" cy="259.4" r="1.42"/>
<circle cx="97.5" cy="251.7" r="1.42"/>
<circle cx="113.3" cy="257.3" r="1.42"/>
<circle cx="111.9" cy="246.2" r="1.42"/>
<circle cx="78.8" cy="237.0" r="1.42"/>
<circle cx="72.5" cy="231.0" r="1.42"/>
<circle cx="78.3" cy="228.1" r="1.42"/>
<circle cx="84.4" cy="261.6" r="1.42"/>
<circle cx="68.1" cy="223.2" r="1.42"/>
<circle cx="98.7" cy="249.6" r="1.42"/>
<circle cx="111.9" cy="256.2" r="1.42"/>
<circle cx="84.8" cy="244.8" r="1.42"/>
<circle cx="110.5" cy="256.3" r="1.42"/>
<circle cx="82.0" cy="249.7" r="1.42"/>
<circle cx="85.4" cy="251.4" r="1.42"/>
<circle cx="65.2" cy="223.6" r="1.42"/>
<circle cx="66.1" cy="224.7" r="1.42"/>
<circle cx="97.5" cy="256.1" r="1.42"/>
<circle cx="111.0" cy="259.3" r="1.42"/>
<circle cx="86.2" cy="259.5" r="1.42"/>
<circle cx="77.3" cy="233.7" r="1.42"/>
<circle cx="88.5" cy="261.2" r="1.42"/>
<circle cx="109.8" cy="258.3" r="1.42"/>
<circle cx="110.4" cy="255.5" r="1.42"/>
<circle cx="77.8" cy="237.4" r="1.42"/>
<circle cx="64.7" cy="225.4" r="1.42"/>
<circle cx="110.0" cy="257.1" r="1.42"/>
<circle cx="94.7" cy="258.8" r="1.42"/>
<circle cx="81.1" cy="247.0" r="1.42"/>
<circle cx="78.9" cy="239.3" r="1.42"/>
<circle cx="70.6" cy="225.1" r="1.42"/>
<circle cx="80.4" cy="236.8" r="1.42"/>
<circle cx="80.1" cy="229.8" r="1.42"/>
<circle cx="111.8" cy="245.4" r="1.42"/>
<circle cx="85.5" cy="244.4" r="1.42"/>
<circle cx="88.8" cy="250.8" r="1.42"/>
<circle cx="69.8" cy="229.1" r="1.42"/>
<circle cx="72.4" cy="233.8" r="1.42"/>
<circle cx="83.8" cy="248.2" r="1.42"/>
<circle cx="98.9" cy="255.6" r="1.42"/>
<circle cx="106.0" cy="251.1" r="1.42"/>
<circle cx="108.6" cy="249.6" r="1.42"/>
<circle cx="92.1" cy="260.4" r="1.42"/>
<circle cx="108.6" cy="256.6" r="1.42"/>
<circle cx="86.0" cy="243.1" r="1.42"/>
<circle cx="108.8" cy="255.6" r="1.42"/>
<circle cx="74.1" cy="232.4" r="1.42"/>
<circle cx="112.0" cy="255.1" r="1.42"/>
<circle cx="88.0" cy="258.2" r="1.42"/>
<circle cx="64.1" cy="221.5" r="1.42"/>
<circle cx="94.5" cy="261.9" r="1.42"/>
<circle cx="84.1" cy="244.8" r="1.42"/>
<circle cx="83.7" cy="259.8" r="1.42"/>
<circle cx="86.6" cy="243.4" r="1.42"/>
<circle cx="96.5" cy="256.9" r="1.42"/>
<circle cx="88.8" cy="246.0" r="1.42"/>
<circle cx="94.0" cy="254.2" r="1.42"/>
<circle cx="73.3" cy="233.0" r="1.42"/>
<circle cx="110.7" cy="261.6" r="1.42"/>
<circle cx="72.5" cy="231.8" r="1.42"/>
<circle cx="74.3" cy="227.3" r="1.42"/>
<circle cx="87.2" cy="253.0" r="1.42"/>
<circle cx="81.1" cy="248.9" r="1.42"/>
<circle cx="111.9" cy="244.4" r="1.42"/>
<circle cx="94.1" cy="261.9" r="1.42"/>
<circle cx="70.5" cy="226.2" r="1.42"/>
<circle cx="69.3" cy="226.7" r="1.42"/>
<circle cx="93.5" cy="254.5" r="1.42"/>
<circle cx="98.7" cy="253.8" r="1.42"/>
<circle cx="73.2" cy="230.8" r="1.42"/>
<circle cx="97.0" cy="260.3" r="1.42"/>
<circle cx="88.8" cy="245.9" r="1.42"/>
<circle cx="98.1" cy="260.3" r="1.42"/>
<circle cx="92.0" cy="259.9" r="1.42"/>
<circle cx="77.5" cy="236.1" r="1.42"/>
<circle cx="91.4" cy="253.2" r="1.42"/>
<circle cx="74.5" cy="231.6" r="1.42"/>
<circle cx="89.0" cy="255.0" r="1.42"/>
<circle cx="83.8" cy="250.2" r="1.42"/>
<circle cx="85.2" cy="260.2" r="1.42"/>
<circle cx="85.6" cy="247.4" r="1.42"/>
<circle cx="82.0" cy="247.7" r="1.42"/>
<circle cx="84.3" cy="240.8" r="1.42"/>
<circle cx="79.7" cy="236.6" r="1.42"/>
<circle cx="114.3" cy="256.1" r="1.42"/>
<circle cx="71.1" cy="231.3" r="1.42"/>
<circle cx="87.2" cy="247.5" r="1.42"/>
<circle cx="105.7" cy="249.8" r="1.42"/>
<circle cx="65.8" cy="221.2" r="1.42"/>
<circle cx="72.8" cy="227.9" r="1.42"/>
<circle cx="80.9" cy="235.7" r="1.42"/>
<circle cx="88.5" cy="248.6" r="1.42"/>
<circle cx="111.5" cy="252.5" r="1.42"/>
<circle cx="112.6" cy="245.3" r="1.42"/>
<circle cx="106.5" cy="254.7" r="1.42"/>
<circle cx="106.0" cy="254.8" r="1.42"/>
<circle cx="103.9" cy="253.7" r="1.42"/>
<circle cx="78.5" cy="242.7" r="1.42"/>
<circle cx="104.2" cy="248.0" r="1.42"/>
<circle cx="77.2" cy="229.8" r="1.42"/>
<circle cx="82.7" cy="254.2" r="1.42"/>
<circle cx="95.0" cy="251.8" r="1.42"/>
<circle cx="107.6" cy="254.8" r="1.42"/>
<circle cx="82.2" cy="239.4" r="1.42"/>
<circle cx="99.6" cy="259.2" r="1.42"/>
<circle cx="112.1" cy="258.9" r="1.42"/>
<circle cx="84.7" cy="242.9" r="1.42"/>
<circle cx="84.7" cy="254.8" r="1.42"/>
<circle cx="110.6" cy="249.5" r="1.42"/>
<circle cx="115.5" cy="259.7" r="1.42"/>
<circle cx="72.6" cy="232.2" r="1.42"/>
<circle cx="89.0" cy="260.7" r="1.42"/>
<circle cx="68.7" cy="221.2" r="1.42"/>
<circle cx="111.8" cy="255.9" r="1.42"/>
<circle cx="83.0" cy="238.1" r="1.42"/>
<circle cx="101.8" cy="254.6" r="1.42"/>
<circle cx="80.5" cy="238.3" r="1.42"/>
<circle cx="82.1" cy="239.1" r="1.42"/>
<circle cx="113.3" cy="260.9" r="1.42"/>
<circle cx="80.6" cy="243.8" r="1.42"/>
<circle cx="83.2" cy="257.1" r="1.42"/>
<circle cx="84.9" cy="244.2" r="1.42"/>
<circle cx="87.4" cy="242.0" r="1.42"/>
<circle cx="70.1" cy="227.2" r="1.42"/>
<circle cx="88.8" cy="256.2" r="1.42"/>
<circle cx="95.2" cy="249.9" r="1.42"/>
<circle cx="77.1" cy="235.3" r="1.42"/>
<circle cx="75.8" cy="232.2" r="1.42"/>
<circle cx="114.6" cy="245.9" r="1.42"/>
<circle cx="83.1" cy="252.0" r="1.42"/>
<circle cx="102.6" cy="254.6" r="1.42"/>
<circle cx="105.9" cy="259.8" r="1.42"/>
<circle cx="95.1" cy="253.6" r="1.42"/>
<circle cx="103.1" cy="253.8" r="1.42"/>
<circle cx="92.4" cy="256.6" r="1.42"/>
<circle cx="113.7" cy="245.5" r="1.42"/>
<circle cx="73.3" cy="234.8" r="1.42"/>
<circle cx="89.9" cy="261.4" r="1.42"/>
<circle cx="66.1" cy="225.7" r="1.42"/>
<circle cx="79.2" cy="240.8" r="1.42"/>
<circle cx="78.6" cy="243.7" r="1.42"/>
<circle cx="93.9" cy="260.2" r="1.42"/>
<circle cx="95.7" cy="252.3" r="1.42"/>
<circle cx="109.2" cy="256.6" r="1.42"/>
<circle cx="77.5" cy="229.5" r="1.42"/>
<circle cx="80.8" cy="232.6" r="1.42"/>
<circle cx="68.1" cy="227.1" r="1.42"/>
<circle cx="96.9" cy="261.5" r="1.42"/>
<circle cx="84.0" cy="252.4" r="1.42"/>
<circle cx="88.1" cy="256.4" r="1.42"/>
<circle cx="73.0" cy="230.9" r="1.42"/>
<circle cx="98.2" cy="256.2" r="1.42"/>
<circle cx="105.7" cy="260.4" r="1.42"/>
<circle cx="110.0" cy="256.7" r="1.42"/>
<circle cx="113.8" cy="246.7" r="1.42"/>
<circle cx="82.3" cy="251.3" r="1.42"/>
<circle cx="82.7" cy="240.5" r="1.42"/>
<circle cx="98.8" cy="250.3" r="1.42"/>
<circle cx="72.5" cy="225.6" r="1.42"/>
<circle cx="95.4" cy="247.4" r="1.42"/>
<circle cx="104.4" cy="251.9" r="1.42"/>
<circle cx="107.9" cy="261.0" r="1.42"/>
<circle cx="93.6" cy="259.5" r="1.42"/>
<circle cx="90.9" cy="247.4" r="1.42"/>
<circle cx="65.1" cy="225.2" r="1.42"/>
<circle cx="76.6" cy="236.8" r="1.0" fill="#fff"/>
<circle cx="97.6" cy="253.1" r="0.9" fill="#fff"/>
<circle cx="102" cy="257.4" r="0.9" fill="#fff"/>
<circle cx="65.0" cy="255.5" r="1.42"/>
<circle cx="67.0" cy="257.0" r="1.42"/>
<circle cx="70.0" cy="258.5" r="1.42"/>
<circle cx="73.0" cy="257.5" r="1.42"/>
<circle cx="76.0" cy="258.0" r="1.42"/>
<circle cx="79.0" cy="257.0" r="1.42"/>
<circle cx="66.5" cy="251.5" r="1.42"/>
<circle cx="75.0" cy="254.0" r="1.42"/>
<circle cx="78.0" cy="252.0" r="1.42"/>
<line x1="441" y1="262" x2="625.4" y2="262" stroke="#000" stroke-width="3"/>
<line x1="414.5" y1="261.9" x2="441.5" y2="261.9" stroke="#000" stroke-width="2.5"/>
<circle cx="415.1" cy="134.0" r="1.6"/>
<circle cx="415.1" cy="135.3" r="1.6"/>
<circle cx="415.1" cy="136.6" r="1.6"/>
<circle cx="415.1" cy="142.3" r="1.6"/>
<circle cx="415.1" cy="151.4" r="1.6"/>
<circle cx="415.1" cy="158.7" r="1.6"/>
<circle cx="415.1" cy="166.3" r="1.6"/>
<circle cx="415.1" cy="192.3" r="1.6"/>
<circle cx="415.1" cy="193.5" r="1.6"/>
<circle cx="415.1" cy="194.6" r="1.6"/>
<circle cx="415.1" cy="200.2" r="1.6"/>
<circle cx="415.1" cy="202.2" r="1.6"/>
<circle cx="415.1" cy="204.2" r="1.6"/>
<line x1="415.1" y1="205.5" x2="415.1" y2="248.6" stroke="#000" stroke-width="2.4"/>
<line x1="415.1" y1="252.7" x2="415.1" y2="262.5" stroke="#000" stroke-width="2.4"/>
<circle cx="419.0" cy="256.5" r="1.42"/>
<circle cx="420.5" cy="255.5" r="1.42"/>
<circle cx="422.0" cy="256.0" r="1.42"/>
<circle cx="423.5" cy="257.0" r="1.42"/>
<circle cx="421.0" cy="257.5" r="1.42"/>
<circle cx="419.5" cy="258.0" r="1.42"/>
<circle cx="417.0" cy="259.5" r="1.42"/>
<circle cx="418.5" cy="260.5" r="1.42"/>
<circle cx="448.9" cy="167.6" r="1.42"/>
<circle cx="450.4" cy="169.0" r="1.42"/>
<circle cx="449.3" cy="168.8" r="1.42"/>
<circle cx="453.2" cy="171.8" r="1.42"/>
<circle cx="454.0" cy="173.6" r="1.42"/>
<circle cx="453.7" cy="172.5" r="1.42"/>
<circle cx="455.6" cy="176.2" r="1.42"/>
<circle cx="457.2" cy="177.3" r="1.42"/>
<circle cx="458.6" cy="178.4" r="1.42"/>
<circle cx="457.2" cy="178.6" r="1.42"/>
<circle cx="459.0" cy="176.8" r="1.42"/>
<circle cx="456.0" cy="175.4" r="1.42"/>
<circle cx="465.0" cy="190.0" r="1.42"/>
<circle cx="467.0" cy="188.3" r="1.42"/>
<circle cx="469.3" cy="187.0" r="1.42"/>
<circle cx="469.7" cy="186.5" r="1.42"/>
<circle cx="466.7" cy="188.3" r="1.42"/>
<circle cx="465.6" cy="189.4" r="1.42"/>
<circle cx="474.0" cy="173.7" r="1.42"/>
<circle cx="477.7" cy="175.5" r="1.42"/>
<circle cx="480.0" cy="176.7" r="1.42"/>
<circle cx="482.2" cy="177.7" r="1.42"/>
<circle cx="484.5" cy="178.8" r="1.42"/>
<circle cx="486.7" cy="180.0" r="1.42"/>
<circle cx="479.0" cy="176.0" r="1.42"/>
<circle cx="483.3" cy="178.2" r="1.42"/>
<circle cx="489.0" cy="181.8" r="1.42"/>
<circle cx="490.4" cy="183.0" r="1.42"/>
<circle cx="492.0" cy="184.2" r="1.42"/>
<circle cx="493.4" cy="184.8" r="1.42"/>
<circle cx="495.7" cy="183.7" r="1.42"/>
<circle cx="497.2" cy="184.5" r="1.42"/>
<circle cx="498.7" cy="187.5" r="1.42"/>
<circle cx="500.2" cy="188.7" r="1.42"/>
<circle cx="501.7" cy="187.5" r="1.42"/>
<circle cx="503.2" cy="189.0" r="1.42"/>
<circle cx="504.0" cy="190.4" r="1.42"/>
<circle cx="505.4" cy="192.0" r="1.42"/>
<circle cx="506.6" cy="193.4" r="1.42"/>
<circle cx="507.7" cy="195.0" r="1.42"/>
<circle cx="508.4" cy="194.2" r="1.42"/>
<circle cx="510.0" cy="192.7" r="1.42"/>
<circle cx="510.7" cy="195.0" r="1.42"/>
<circle cx="511.4" cy="196.4" r="1.42"/>
<circle cx="512.9" cy="195.0" r="1.42"/>
<circle cx="514.4" cy="198.0" r="1.42"/>
<circle cx="516.6" cy="197.2" r="1.42"/>
<circle cx="517.4" cy="199.4" r="1.42"/>
<circle cx="518.1" cy="201.0" r="1.42"/>
<circle cx="515.5" cy="199.0" r="1.42"/>
<circle cx="517.0" cy="198.0" r="1.42"/>
<circle cx="518.5" cy="197.0" r="1.42"/>
<circle cx="519.5" cy="201.5" r="1.42"/>
<circle cx="521.0" cy="201.0" r="1.42"/>
<circle cx="520.4" cy="201.5" r="1.42"/>
<circle cx="521.9" cy="202.4" r="1.42"/>
<circle cx="523.4" cy="204.0" r="1.42"/>
<circle cx="524.1" cy="205.4" r="1.42"/>
<circle cx="522.0" cy="205.5" r="1.42"/>
<circle cx="523.5" cy="204.5" r="1.42"/>
<circle cx="525.0" cy="203.5" r="1.42"/>
<circle cx="526.5" cy="202.8" r="1.42"/>
<circle cx="528.0" cy="202.2" r="1.42"/>
<circle cx="531.0" cy="207.5" r="1.42"/>
<circle cx="532.0" cy="208.5" r="1.42"/>
<circle cx="531.0" cy="211.5" r="1.42"/>
<circle cx="539.0" cy="212.5" r="1.42"/>
<circle cx="538.0" cy="214.0" r="1.42"/>
<circle cx="537.0" cy="215.0" r="1.42"/>
<circle cx="535.5" cy="217.5" r="1.42"/>
<circle cx="541.5" cy="214.5" r="1.42"/>
<circle cx="543.0" cy="215.5" r="1.42"/>
<circle cx="544.0" cy="216.5" r="1.42"/>
<circle cx="469.5" cy="186.7" r="1.42"/>
<circle cx="467.2" cy="188.2" r="1.42"/>
<circle cx="465.7" cy="189.7" r="1.42"/>
<circle cx="559.7" cy="224.6" r="1.42"/>
<circle cx="502.0" cy="216.0" r="1.42"/>
<circle cx="504.0" cy="219.0" r="1.42"/>
<circle cx="508.0" cy="213.0" r="1.42"/>
<circle cx="515.5" cy="223.4" r="1.42"/>
<circle cx="544.0" cy="228.0" r="1.42"/>
<circle cx="541.0" cy="214.0" r="1.42"/>
<circle cx="543.0" cy="214.4" r="1.42"/>
<circle cx="545.0" cy="217.0" r="1.42"/>
<circle cx="547.0" cy="218.0" r="1.42"/>
<circle cx="542.0" cy="220.0" r="1.42"/>
<circle cx="545.0" cy="221.0" r="1.42"/>
<circle cx="550.0" cy="221.0" r="1.42"/>
<circle cx="550.0" cy="225.0" r="1.42"/>
<circle cx="551.0" cy="227.0" r="1.42"/>
<circle cx="544.0" cy="228.0" r="1.42"/>
<circle cx="559.0" cy="225.0" r="1.42"/>
<circle cx="560.0" cy="226.0" r="1.42"/>
<circle cx="557.0" cy="228.0" r="1.42"/>
<circle cx="562.0" cy="228.0" r="1.42"/>
<circle cx="568.0" cy="229.0" r="1.42"/>
<circle cx="552.0" cy="231.0" r="1.42"/>
<circle cx="553.0" cy="232.0" r="1.42"/>
<circle cx="559.0" cy="232.0" r="1.42"/>
<circle cx="560.0" cy="233.0" r="1.42"/>
<circle cx="551.0" cy="236.0" r="1.42"/>
<circle cx="557.0" cy="236.0" r="1.42"/>
<circle cx="564.0" cy="235.0" r="1.42"/>
<circle cx="569.0" cy="236.0" r="1.42"/>
<circle cx="570.0" cy="237.0" r="1.42"/>
<circle cx="576.0" cy="236.0" r="1.42"/>
<circle cx="554.0" cy="241.0" r="1.42"/>
<circle cx="560.0" cy="239.0" r="1.42"/>
<circle cx="561.0" cy="241.0" r="1.42"/>
<circle cx="566.0" cy="240.0" r="1.42"/>
<circle cx="570.0" cy="239.0" r="1.42"/>
<circle cx="577.0" cy="239.0" r="1.42"/>
<circle cx="578.0" cy="240.0" r="1.42"/>
<circle cx="563.0" cy="243.0" r="1.42"/>
<circle cx="565.0" cy="244.0" r="1.42"/>
<circle cx="568.0" cy="245.0" r="1.42"/>
<circle cx="572.0" cy="243.0" r="1.42"/>
<circle cx="582.0" cy="244.0" r="1.42"/>
<circle cx="591.0" cy="242.0" r="1.42"/>
<circle cx="566.0" cy="247.0" r="1.42"/>
<circle cx="569.0" cy="247.0" r="1.42"/>
<circle cx="571.0" cy="248.0" r="1.42"/>
<circle cx="573.0" cy="246.0" r="1.42"/>
<circle cx="575.0" cy="249.0" r="1.42"/>
<circle cx="577.0" cy="248.0" r="1.42"/>
<circle cx="589.0" cy="246.0" r="1.42"/>
<circle cx="570.0" cy="251.0" r="1.42"/>
<circle cx="573.0" cy="251.4" r="1.42"/>
<circle cx="576.0" cy="252.0" r="1.42"/>
<circle cx="579.0" cy="251.0" r="1.42"/>
<circle cx="580.0" cy="252.0" r="1.42"/>
<circle cx="595.0" cy="250.0" r="1.42"/>
<circle cx="573.0" cy="254.0" r="1.42"/>
<circle cx="576.0" cy="255.0" r="1.42"/>
<circle cx="579.0" cy="254.0" r="1.42"/>
<circle cx="581.0" cy="255.0" r="1.42"/>
<circle cx="583.0" cy="254.0" r="1.42"/>
<circle cx="586.0" cy="256.0" r="1.42"/>
<circle cx="598.0" cy="254.0" r="1.42"/>
<circle cx="580.0" cy="258.0" r="1.42"/>
<circle cx="583.0" cy="259.0" r="1.42"/>
<circle cx="586.0" cy="258.0" r="1.42"/>
<circle cx="590.0" cy="259.0" r="1.42"/>
<circle cx="592.0" cy="258.0" r="1.42"/>
<circle cx="576.7" cy="233.3" r="1.42"/>
<circle cx="578.3" cy="240.0" r="1.42"/>
<circle cx="581.6" cy="244.0" r="1.42"/>
<circle cx="590.8" cy="242.0" r="1.42"/>
<circle cx="589.6" cy="245.7" r="1.42"/>
<circle cx="595.0" cy="250.7" r="1.42"/>
<circle cx="598.3" cy="254.0" r="1.42"/>
<circle cx="597.4" cy="255.0" r="1.42"/>
<circle cx="604.6" cy="252.9" r="1.42"/>
<circle cx="609.0" cy="257.9" r="1.42"/>
<circle cx="575.0" cy="257.0" r="1.42"/>
<circle cx="578.0" cy="256.0" r="1.42"/>
<circle cx="584.0" cy="256.5" r="1.42"/>
<circle cx="588.0" cy="257.0" r="1.42"/>
<circle cx="433.5" cy="242.3" r="1.42"/>
<circle cx="434.8" cy="242.9" r="1.42"/>
<circle cx="436.1" cy="243.5" r="1.42"/>
<circle cx="437.4" cy="244.1" r="1.42"/>
<circle cx="438.7" cy="244.8" r="1.42"/>
<circle cx="440.0" cy="245.4" r="1.42"/>
<circle cx="441.3" cy="246.0" r="1.42"/>
<circle cx="442.6" cy="246.6" r="1.42"/>
<circle cx="443.9" cy="247.2" r="1.42"/>
<circle cx="445.2" cy="247.8" r="1.42"/>
<circle cx="446.5" cy="248.4" r="1.42"/>
<circle cx="447.8" cy="249.0" r="1.42"/>
<circle cx="449.1" cy="249.7" r="1.42"/>
<circle cx="450.4" cy="250.3" r="1.42"/>
<circle cx="451.7" cy="250.9" r="1.42"/>
<circle cx="453.0" cy="251.5" r="1.42"/>
<circle cx="433.0" cy="244.3" r="1.42"/>
<circle cx="434.3" cy="244.9" r="1.42"/>
<circle cx="435.6" cy="245.6" r="1.42"/>
<circle cx="436.9" cy="246.2" r="1.42"/>
<circle cx="438.2" cy="246.8" r="1.42"/>
<circle cx="439.5" cy="247.5" r="1.42"/>
<circle cx="440.8" cy="248.1" r="1.42"/>
<circle cx="442.2" cy="248.7" r="1.42"/>
<circle cx="443.5" cy="249.3" r="1.42"/>
<circle cx="444.8" cy="250.0" r="1.42"/>
<circle cx="446.1" cy="250.6" r="1.42"/>
<circle cx="447.4" cy="251.2" r="1.42"/>
<circle cx="448.7" cy="251.9" r="1.42"/>
<circle cx="450.0" cy="252.5" r="1.42"/>
<circle cx="434.0" cy="246.3" r="1.42"/>
<circle cx="435.3" cy="247.0" r="1.42"/>
<circle cx="436.6" cy="247.6" r="1.42"/>
<circle cx="437.9" cy="248.3" r="1.42"/>
<circle cx="439.2" cy="249.0" r="1.42"/>
<circle cx="440.5" cy="249.7" r="1.42"/>
<circle cx="441.8" cy="250.3" r="1.42"/>
<circle cx="443.1" cy="251.0" r="1.42"/>
<circle cx="444.4" cy="251.7" r="1.42"/>
<circle cx="445.7" cy="252.3" r="1.42"/>
<circle cx="447.0" cy="253.0" r="1.42"/>
<circle cx="436.0" cy="248.5" r="1.42"/>
<circle cx="437.3" cy="249.2" r="1.42"/>
<circle cx="438.7" cy="249.8" r="1.42"/>
<circle cx="440.0" cy="250.5" r="1.42"/>
<circle cx="441.3" cy="251.2" r="1.42"/>
<circle cx="442.7" cy="251.8" r="1.42"/>
<circle cx="444.0" cy="252.5" r="1.42"/>
<circle cx="449.7" cy="256.2" r="1.42"/>
<circle cx="458.7" cy="255.4" r="1.42"/>
<circle cx="450.4" cy="257.3" r="1.42"/>
<circle cx="445.0" cy="229.0" r="1.42"/>
<circle cx="446.3" cy="229.6" r="1.42"/>
<circle cx="447.6" cy="230.1" r="1.42"/>
<circle cx="448.9" cy="230.7" r="1.42"/>
<circle cx="450.2" cy="231.3" r="1.42"/>
<circle cx="451.5" cy="231.8" r="1.42"/>
<circle cx="452.8" cy="232.4" r="1.42"/>
<circle cx="454.1" cy="233.0" r="1.42"/>
<circle cx="455.4" cy="233.5" r="1.42"/>
<circle cx="456.7" cy="234.1" r="1.42"/>
<circle cx="458.0" cy="234.7" r="1.42"/>
<circle cx="459.3" cy="235.2" r="1.42"/>
<circle cx="460.6" cy="235.8" r="1.42"/>
<circle cx="461.9" cy="236.4" r="1.42"/>
<circle cx="463.2" cy="236.9" r="1.42"/>
<circle cx="464.5" cy="237.5" r="1.42"/>
<circle cx="445.0" cy="231.0" r="1.42"/>
<circle cx="446.3" cy="231.6" r="1.42"/>
<circle cx="447.6" cy="232.2" r="1.42"/>
<circle cx="448.9" cy="232.8" r="1.42"/>
<circle cx="450.1" cy="233.3" r="1.42"/>
<circle cx="451.4" cy="233.9" r="1.42"/>
<circle cx="452.7" cy="234.5" r="1.42"/>
<circle cx="454.0" cy="235.1" r="1.42"/>
<circle cx="455.3" cy="235.7" r="1.42"/>
<circle cx="456.6" cy="236.3" r="1.42"/>
<circle cx="457.9" cy="236.9" r="1.42"/>
<circle cx="459.1" cy="237.4" r="1.42"/>
<circle cx="460.4" cy="238.0" r="1.42"/>
<circle cx="461.7" cy="238.6" r="1.42"/>
<circle cx="463.0" cy="239.2" r="1.42"/>
<circle cx="446.0" cy="233.3" r="1.42"/>
<circle cx="447.3" cy="233.9" r="1.42"/>
<circle cx="448.5" cy="234.5" r="1.42"/>
<circle cx="449.8" cy="235.1" r="1.42"/>
<circle cx="451.1" cy="235.7" r="1.42"/>
<circle cx="452.4" cy="236.3" r="1.42"/>
<circle cx="453.6" cy="237.0" r="1.42"/>
<circle cx="454.9" cy="237.6" r="1.42"/>
<circle cx="456.2" cy="238.2" r="1.42"/>
<circle cx="457.5" cy="238.8" r="1.42"/>
<circle cx="458.7" cy="239.4" r="1.42"/>
<circle cx="460.0" cy="240.0" r="1.42"/>
<circle cx="447.5" cy="236.0" r="1.42"/>
<circle cx="448.7" cy="236.7" r="1.42"/>
<circle cx="449.9" cy="237.4" r="1.42"/>
<circle cx="451.1" cy="238.1" r="1.42"/>
<circle cx="452.4" cy="238.9" r="1.42"/>
<circle cx="453.6" cy="239.6" r="1.42"/>
<circle cx="454.8" cy="240.3" r="1.42"/>
<circle cx="456.0" cy="241.0" r="1.42"/>
<circle cx="449.0" cy="238.5" r="1.42"/>
<circle cx="450.2" cy="239.5" r="1.42"/>
<circle cx="451.5" cy="240.5" r="1.42"/>
<circle cx="452.8" cy="241.5" r="1.42"/>
<circle cx="454.0" cy="242.5" r="1.42"/>
<circle cx="461.7" cy="227.7" r="1.42"/>
<circle cx="464.7" cy="230.0" r="1.42"/>
<circle cx="466.2" cy="230.7" r="1.42"/>
<circle cx="461.5" cy="227.2" r="1.42"/>
<circle cx="462.7" cy="227.8" r="1.42"/>
<circle cx="465.0" cy="229.5" r="1.42"/>
<circle cx="466.2" cy="230.1" r="1.42"/>
<circle cx="466.7" cy="242.3" r="1.42"/>
<circle cx="469.0" cy="241.2" r="1.42"/>
<circle cx="471.4" cy="240.6" r="1.42"/>
<circle cx="473.7" cy="239.8" r="1.42"/>
<circle cx="470.8" cy="232.4" r="1.42"/>
<circle cx="472.0" cy="231.9" r="1.42"/>
<circle cx="463.4" cy="213.7" r="1.42"/>
<circle cx="466.5" cy="225.0" r="1.42"/>
<circle cx="467.6" cy="224.2" r="1.42"/>
<circle cx="468.7" cy="223.3" r="1.42"/>
<circle cx="469.8" cy="222.5" r="1.42"/>
<circle cx="471.0" cy="221.7" r="1.42"/>
<circle cx="472.1" cy="220.8" r="1.42"/>
<circle cx="473.2" cy="220.0" r="1.42"/>
<circle cx="474.3" cy="219.2" r="1.42"/>
<circle cx="475.4" cy="218.4" r="1.42"/>
<circle cx="476.5" cy="217.5" r="1.42"/>
<circle cx="477.7" cy="216.7" r="1.42"/>
<circle cx="478.8" cy="215.9" r="1.42"/>
<circle cx="479.9" cy="215.0" r="1.42"/>
<circle cx="481.0" cy="214.2" r="1.42"/>
<circle cx="471.0" cy="229.0" r="1.42"/>
<circle cx="472.1" cy="228.2" r="1.42"/>
<circle cx="473.1" cy="227.4" r="1.42"/>
<circle cx="474.2" cy="226.5" r="1.42"/>
<circle cx="475.3" cy="225.7" r="1.42"/>
<circle cx="476.3" cy="224.9" r="1.42"/>
<circle cx="477.4" cy="224.1" r="1.42"/>
<circle cx="478.5" cy="223.3" r="1.42"/>
<circle cx="479.5" cy="222.4" r="1.42"/>
<circle cx="480.6" cy="221.6" r="1.42"/>
<circle cx="481.7" cy="220.8" r="1.42"/>
<circle cx="482.7" cy="220.0" r="1.42"/>
<circle cx="483.8" cy="219.2" r="1.42"/>
<circle cx="484.9" cy="218.3" r="1.42"/>
<circle cx="485.9" cy="217.5" r="1.42"/>
<circle cx="487.0" cy="216.7" r="1.42"/>
<circle cx="478.0" cy="231.5" r="1.42"/>
<circle cx="479.1" cy="230.7" r="1.42"/>
<circle cx="480.2" cy="229.9" r="1.42"/>
<circle cx="481.3" cy="229.1" r="1.42"/>
<circle cx="482.5" cy="228.3" r="1.42"/>
<circle cx="483.6" cy="227.5" r="1.42"/>
<circle cx="484.7" cy="226.7" r="1.42"/>
<circle cx="485.8" cy="225.9" r="1.42"/>
<circle cx="486.9" cy="225.2" r="1.42"/>
<circle cx="488.0" cy="224.4" r="1.42"/>
<circle cx="489.1" cy="223.6" r="1.42"/>
<circle cx="490.2" cy="222.8" r="1.42"/>
<circle cx="491.4" cy="222.0" r="1.42"/>
<circle cx="492.5" cy="221.2" r="1.42"/>
<circle cx="493.6" cy="220.4" r="1.42"/>
<circle cx="494.7" cy="219.6" r="1.42"/>
<circle cx="466.0" cy="217.0" r="1.42"/>
<circle cx="466.7" cy="218.5" r="1.42"/>
<circle cx="467.3" cy="220.0" r="1.42"/>
<circle cx="468.0" cy="221.5" r="1.42"/>
<circle cx="469.5" cy="216.5" r="1.42"/>
<circle cx="470.3" cy="217.8" r="1.42"/>
<circle cx="471.2" cy="219.2" r="1.42"/>
<circle cx="472.0" cy="220.5" r="1.42"/>
<circle cx="464.5" cy="213.6" r="1.42"/>
<circle cx="486.0" cy="211.2" r="1.42"/>
<circle cx="490.3" cy="208.0" r="1.42"/>
<circle cx="493.2" cy="213.4" r="1.42"/>
<circle cx="469.0" cy="223.0" r="1.42"/>
<circle cx="470.5" cy="224.5" r="1.42"/>
<circle cx="472.5" cy="226.0" r="1.42"/>
<circle cx="474.0" cy="228.0" r="1.42"/>
<circle cx="473.0" cy="223.5" r="1.42"/>
<circle cx="475.0" cy="225.5" r="1.42"/>
<circle cx="477.0" cy="227.0" r="1.42"/>
<circle cx="479.0" cy="228.5" r="1.42"/>
<circle cx="481.0" cy="230.0" r="1.42"/>
<circle cx="483.0" cy="228.0" r="1.42"/>
<circle cx="480.0" cy="224.6" r="1.42"/>
<circle cx="482.5" cy="226.0" r="1.42"/>
<circle cx="485.0" cy="227.5" r="1.42"/>
<circle cx="476.5" cy="222.0" r="1.42"/>
<circle cx="478.5" cy="221.0" r="1.42"/>
<circle cx="462.0" cy="227.0" r="1.42"/>
<circle cx="465.0" cy="229.0" r="1.42"/>
<circle cx="466.0" cy="231.0" r="1.42"/>
<circle cx="486.0" cy="232.0" r="1.42"/>
<circle cx="489.5" cy="226.5" r="1.42"/>
<circle cx="491.0" cy="234.0" r="1.42"/>
<circle cx="463.0" cy="237.0" r="1.42"/>
<circle cx="483.5" cy="236.0" r="1.42"/>
<circle cx="477.0" cy="233.0" r="1.42"/>
<circle cx="480.0" cy="234.0" r="1.42"/>
<circle cx="490.2" cy="207.4" r="1.42"/>
<circle cx="486.6" cy="210.8" r="1.42"/>
<circle cx="494.0" cy="213.3" r="1.42"/>
<circle cx="498.2" cy="210.0" r="1.42"/>
<circle cx="500.7" cy="215.7" r="1.42"/>
<circle cx="507.3" cy="213.3" r="1.42"/>
<circle cx="495.7" cy="215.7" r="1.42"/>
<circle cx="504.0" cy="220.0" r="1.42"/>
<circle cx="504.0" cy="232.4" r="1.42"/>
<circle cx="491.6" cy="234.0" r="1.42"/>
<circle cx="493.2" cy="232.9" r="1.42"/>
<circle cx="464.0" cy="213.8" r="1.42"/>
<circle cx="467.0" cy="215.8" r="1.42"/>
<circle cx="471.0" cy="216.8" r="1.42"/>
<circle cx="485.0" cy="210.8" r="1.42"/>
<circle cx="490.0" cy="207.8" r="1.42"/>
<circle cx="494.0" cy="211.8" r="1.42"/>
<circle cx="498.0" cy="209.8" r="1.42"/>
<circle cx="497.0" cy="214.8" r="1.42"/>
<circle cx="502.0" cy="214.8" r="1.42"/>
<circle cx="503.0" cy="217.8" r="1.42"/>
<circle cx="483.3" cy="236.3" r="1.42"/>
<circle cx="486.0" cy="232.3" r="1.42"/>
<circle cx="491.2" cy="233.6" r="1.42"/>
<circle cx="493.2" cy="234.3" r="1.42"/>
<circle cx="495.2" cy="233.0" r="1.42"/>
<circle cx="497.2" cy="231.0" r="1.42"/>
<circle cx="492.6" cy="237.6" r="1.42"/>
<circle cx="504.5" cy="232.3" r="1.42"/>
<circle cx="502.5" cy="239.6" r="1.42"/>
<circle cx="504.5" cy="239.0" r="1.42"/>
<circle cx="515.8" cy="238.3" r="1.42"/>
<circle cx="515.8" cy="225.0" r="1.42"/>
<circle cx="531.0" cy="246.2" r="1.42"/>
<circle cx="482.6" cy="247.6" r="1.42"/>
<circle cx="483.3" cy="247.0" r="1.42"/>
<circle cx="493.2" cy="250.9" r="1.42"/>
<circle cx="495.2" cy="250.9" r="1.42"/>
<circle cx="497.2" cy="252.2" r="1.42"/>
<circle cx="497.9" cy="253.6" r="1.42"/>
<circle cx="472.0" cy="240.3" r="1.42"/>
<circle cx="474.0" cy="239.6" r="1.42"/>
<circle cx="475.3" cy="239.3" r="1.42"/>
<circle cx="520.5" cy="259.5" r="1.42"/>
<circle cx="523.0" cy="259.8" r="1.42"/>
<circle cx="525.8" cy="259.3" r="1.42"/>
</g></svg></body></html>
